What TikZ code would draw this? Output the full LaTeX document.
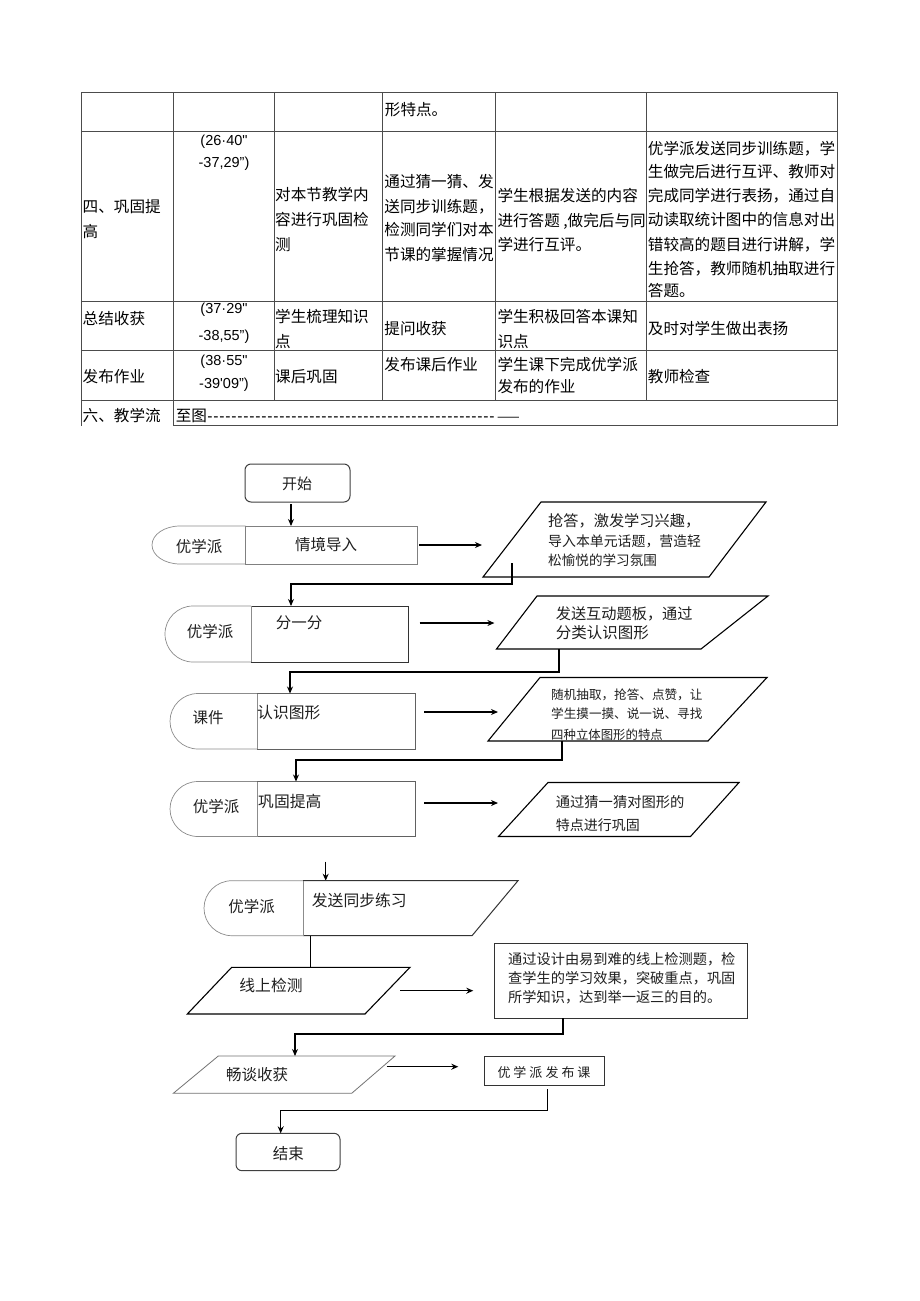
\documentclass[tikz,border=0pt]{standalone}
\usepackage{fontspec}
\setmainfont{Noto Sans CJK SC}
\newfontfamily\lat{Liberation Sans}
\usetikzlibrary{arrows.meta}
\newcommand\mydshape[5]{%
  \draw[#1] (#3,#4) -- ({#2+28},#4) .. controls ({#2+12.5},#4) and (#2,{(#4+#5)/2-0.5523*(#5-#4)/2}) .. (#2,{(#4+#5)/2})
    .. controls (#2,{(#4+#5)/2+0.5523*(#5-#4)/2}) and ({#2+12.5},#5) .. ({#2+28},#5) -- (#3,#5);}
\begin{document}
\begin{tikzpicture}[x=1pt,y=-1pt,
  tl/.style={inner sep=0pt, anchor=west, font=\fontsize{15.6}{18}\selectfont},
  tn/.style={inner sep=0pt, font=\fontsize{14.5}{18}\selectfont\lat},
  ft/.style={inner sep=0pt, text=black!88},
  conn/.style={draw=black, line width=1.1pt, -{Stealth[length=7pt,width=6pt]}},
  link/.style={draw=black, line width=1.1pt},
  tbl/.style={draw=black!70, line width=0.9pt},
  dgray/.style={draw=black!45, line width=0.7pt},
  rgray/.style={draw=black!50, line width=0.8pt},
  rmid/.style={draw=black!62, line width=0.9pt},
  rdark/.style={draw=black!80, line width=1pt},
  para/.style={draw=black, line width=1.1pt, line join=miter},
  term/.style={draw=black!75, line width=1pt, rounded corners=6pt}]
\useasboundingbox[fill=white] (0,0) rectangle (920,1301);

% ---------------- table ----------------
\foreach \yy in {92,131,301,350.5,400.5} \draw[tbl] (81,\yy) -- (837,\yy);
\draw[tbl] (173.6,425.5) -- (837,425.5);
\draw[tbl] (81,92) -- (81,425.5);
\draw[tbl] (173.6,92) -- (173.6,425.5);
\draw[tbl] (837,92) -- (837,425.5);
\foreach \xx in {274.2,382.7,495.8,646.7} \draw[tbl] (\xx,92) -- (\xx,400.5);

\node[tl] (r1c4) at (384.7,110) {形特点。};

\node[tl] (r2c1a) at (82.5,206.7) {四、巩固提};
\node[tl] (r2c1b) at (82.5,231.7) {高};
\node[tn] (r2c2a) at (224,141.7) {(26·40"};
\node[tn] (r2c2b) at (224,164) {-37,29”)};
\node[tl] (r2c3a) at (275,195) {对本节教学内};
\node[tl] (r2c3b) at (275,220) {容进行巩固检};
\node[tl] (r2c3c) at (275,244.3) {测};
\node[tl] (r2c4a) at (384.2,181.7) {通过猜一猜、发};
\node[tl] (r2c4b) at (384.2,206.7) {送同步训练题，};
\node[tl] (r2c4c) at (384.2,230) {检测同学们对本};
\node[tl] (r2c4d) at (384.2,255) {节课的掌握情况};
\node[tl] (r2c5a) at (497.3,195.7) {学生根据发送的内容};
\node[tl] (r2c5b) at (497.3,221) {进行答题 ,做完后与同};
\node[tl] (r2c5c) at (497.3,245) {学进行互评。};
\node[tl] (r2c6a) at (647.7,148.3) {优学派发送同步训练题，学};
\node[tl] (r2c6b) at (647.7,171.9) {生做完后进行互评、教师对};
\node[tl] (r2c6c) at (647.7,195.5) {完成同学进行表扬，通过自};
\node[tl] (r2c6d) at (647.7,219.9) {动读取统计图中的信息对出};
\node[tl] (r2c6e) at (647.7,244.3) {错较高的题目进行讲解，学};
\node[tl] (r2c6f) at (647.7,268.3) {生抢答，教师随机抽取进行};
\node[tl] (r2c6g) at (647.7,290.5) {答题。};

\node[tl] (r3c1) at (82.5,318.3) {总结收获};
\node[tn] (r3c2a) at (224,310) {(37·29"};
\node[tn] (r3c2b) at (224,336.7) {-38,55”)};
\node[tl] (r3c3a) at (275,316.7) {学生梳理知识};
\node[tl] (r3c3b) at (275,341.7) {点};
\node[tl] (r3c4) at (384.2,328.3) {提问收获};
\node[tl] (r3c5a) at (497.3,316.7) {学生积极回答本课知};
\node[tl] (r3c5b) at (497.3,341.7) {识点};
\node[tl] (r3c6) at (647.7,328.3) {及时对学生做出表扬};

\node[tl] (r4c1) at (82.5,376.7) {发布作业};
\node[tn] (r4c2a) at (224,361.7) {(38·55"};
\node[tn] (r4c2b) at (224,385) {-39'09”)};
\node[tl] (r4c3) at (275,376.7) {课后巩固};
\node[tl] (r4c4) at (384.2,365) {发布课后作业};
\node[tl] (r4c5a) at (497.3,365) {学生课下完成优学派};
\node[tl] (r4c5b) at (497.3,386.7) {发布的作业};
\node[tl] (r4c6) at (647.7,376.7) {教师检查};

\node[tl] (r5c1) at (82.5,415.7) {六、教学流};
\node[tl] (r5c2) at (175.6,415.7) {至图{\lat\hbox to 290pt{\leaders\hbox to 6pt{\hss-\hss}\hfill}}{\fontsize{13.5}{16}\selectfont ——}};

% ---------------- flowchart ----------------
% start
\draw[term] (245,464) rectangle (350,502);
\node[ft,font=\fontsize{15}{18}\selectfont] (start) at (297,484) {开始};
\coordinate (startb) at (291,504);

% group 1
\mydshape{dgray}{152}{245.5}{526}{564}
\draw[rgray] (245.5,526) rectangle (417,564);
\node[ft,font=\fontsize{15.5}{18}\selectfont] (g1l) at (199,547) {优学派};
\node[ft,font=\fontsize{15.5}{18}\selectfont] (g1r) at (326,545) {情境导入};
\coordinate (g1t) at (291,526);
\coordinate (g1o) at (419,545);
\draw[conn] (startb) -- (g1t);

% parallelogram 1
\draw[para] (541,502) -- (766,502) -- (709,577) -- (483,577) -- cycle;
\node[ft,anchor=west,font=\fontsize{15.2}{18}\selectfont] (p1a) at (548,521) {抢答，激发学习兴趣，};
\node[ft,anchor=west,font=\fontsize{13.9}{18}\selectfont] (p1b) at (548,541) {导入本单元话题，营造轻};
\node[ft,anchor=west,font=\fontsize{13.6}{18}\selectfont] (p1c) at (548,560) {松愉悦的学习氛围};
\coordinate (p1i) at (482,545);
\coordinate (p1s) at (512,563);
\draw[conn] (g1o) -- (p1i);

% group 2
\mydshape{dgray}{165}{251}{606}{662}
\draw[rdark] (251,606) -- (408,606) -- (408,662) -- (251,662);
\draw[dgray] (251,606) -- (251,662);
\node[ft,font=\fontsize{15.5}{18}\selectfont] (g2l) at (210,632) {优学派};
\node[ft,font=\fontsize{15.5}{18}\selectfont] (g2r) at (299,623) {分一分};
\coordinate (g2t) at (291,606);
\coordinate (g2o) at (419.7,623);
\coordinate (e1) at (0,584);
\draw[conn] (p1s) -- (p1s |- e1) -- (g2t |- e1) -- (g2t);

% parallelogram 2
\draw[para] (537,596) -- (768,596) -- (701,649) -- (496.5,649) -- cycle;
\node[ft,anchor=west,font=\fontsize{15.2}{18}\selectfont] (p2a) at (555.6,614) {发送互动题板，通过};
\node[ft,anchor=west,font=\fontsize{15.5}{18}\selectfont] (p2b) at (555.6,632.5) {分类认识图形};
\coordinate (p2i) at (494.4,623);
\coordinate (p2s) at (559,649);
\draw[conn] (g2o) -- (p2i);

% group 3
\mydshape{dgray}{170}{257}{693.5}{749}
\draw[rmid] (257,693.5) -- (415,693.5) -- (415,749) -- (257,749);
\draw[dgray] (257,693.5) -- (257,749);
\node[ft,font=\fontsize{15.5}{18}\selectfont] (g3l) at (208,718) {课件};
\node[ft,anchor=west,font=\fontsize{15.8}{18}\selectfont] (g3r) at (257,713) {认识图形};
\coordinate (g3t) at (290,693.5);
\coordinate (g3o) at (424,712);
\coordinate (e2) at (0,672);
\draw[conn] (p2s) -- (p2s |- e2) -- (g3t |- e2) -- (g3t);

% parallelogram 3
\draw[para] (540,677.5) -- (767,677.5) -- (708,741) -- (488,741) -- cycle;
\node[ft,anchor=west,font=\fontsize{12.6}{16}\selectfont] (p3a) at (551,695) {随机抽取，抢答、点赞，让};
\node[ft,anchor=west,font=\fontsize{12.6}{16}\selectfont] (p3b) at (551,713.5) {学生摸一摸、说一说、寻找};
\begin{scope}
\clip (545,720) rectangle (700,739.2);
\node[ft,anchor=west,font=\fontsize{12.4}{16}\selectfont] (p3c) at (551,735) {四种立体图形的特点};
\end{scope}
\coordinate (p3i) at (498,712);
\coordinate (p3s) at (562,741);
\draw[conn] (g3o) -- (p3i);

% group 4
\mydshape{dgray}{170}{257}{781.5}{836.5}
\draw[rmid] (257,781.5) -- (415.5,781.5) -- (415.5,836.5) -- (257,836.5);
\draw[dgray] (257,781.5) -- (257,836.5);
\node[ft,font=\fontsize{15.5}{18}\selectfont] (g4l) at (216,806.5) {优学派};
\node[ft,anchor=west,font=\fontsize{15.8}{18}\selectfont] (g4r) at (258,801.5) {巩固提高};
\coordinate (g4t) at (296,781.5);
\coordinate (g4o) at (424,803);
\coordinate (e3) at (0,760);
\draw[conn] (p3s) -- (p3s |- e3) -- (g4t |- e3) -- (g4t);

% parallelogram 4
\draw[para] (548,782.5) -- (739,782.5) -- (690.5,836.5) -- (498.5,836.5) -- cycle;
\node[ft,anchor=west,font=\fontsize{14.3}{18}\selectfont] (p4a) at (555.6,801.7) {通过猜一猜对图形的};
\node[ft,anchor=west,font=\fontsize{14}{18}\selectfont] (p4b) at (555.6,825) {特点进行巩固};
\coordinate (p4i) at (498,803);
\draw[conn] (g4o) -- (p4i);

% group 5
\coordinate (a5) at (325.7,861.7);
\coordinate (g5t) at (325.7,880.7);
\draw[conn] (a5) -- (g5t);
\mydshape{dgray}{204}{303}{880.7}{935.7}
\draw[rdark] (303,880.7) -- (518,880.7) -- (472,935.7) -- (303,935.7);
\draw[dgray] (303,880.7) -- (303,935.7);
\node[ft,font=\fontsize{15.5}{18}\selectfont] (g5l) at (251.7,906.7) {优学派};
\node[ft,anchor=west,font=\fontsize{15.8}{18}\selectfont] (g5r) at (311.7,900) {发送同步练习};
\coordinate (g5b) at (310.7,935.7);

% online test
\draw[para] (231.7,967.3) -- (410,967.3) -- (365,1014) -- (187.3,1014) -- cycle;
\node[ft,font=\fontsize{15.8}{18}\selectfont] (xs) at (271,985) {线上检测};
\coordinate (xst) at (310.7,967.3);
\coordinate (xso) at (400,990.7);
\draw[link] (g5b) -- (xst);

% box
\draw[rdark] (494,943.3) rectangle (747.7,1018.3);
\node[ft,anchor=west,font=\fontsize{14.2}{18}\selectfont] (bxa) at (508,959.3) {通过设计由易到难的线上检测题，检};
\node[ft,anchor=west,font=\fontsize{14.2}{18}\selectfont] (bxb) at (508,978) {查学生的学习效果，突破重点，巩固};
\node[ft,anchor=west,font=\fontsize{14.2}{18}\selectfont] (bxc) at (508,997) {所学知识，达到举一返三的目的。};
\coordinate (bxi) at (473.3,990.7);
\coordinate (bxs) at (563,1018.3);
\draw[conn] (xso) -- (bxi);

% harvest
\draw[draw=black!55, line width=0.8pt] (218.3,1056) -- (395,1056) -- (351.7,1093.3) -- (173.3,1093.3) -- cycle;
\node[ft,font=\fontsize{15.5}{18}\selectfont] (hv) at (257,1075) {畅谈收获};
\coordinate (hvt) at (295,1056);
\coordinate (hvo) at (386.7,1066.7);
\coordinate (e4) at (0,1034);
\draw[conn] (bxs) -- (bxs |- e4) -- (hvt |- e4) -- (hvt);

% publish
\draw[rdark] (484,1056) rectangle (604,1085.7);
\node[ft,font=\fontsize{13}{18}\selectfont] (pub) at (544,1073) {优\kern3pt 学\kern3pt 派\kern3pt 发\kern3pt 布\kern3pt 课};
\coordinate (pubi) at (458.3,1066.7);
\coordinate (pubs) at (547.7,1089);
\draw[conn] (hvo) -- (pubi);

% end
\draw[term] (236,1133.3) rectangle (340,1170.7);
\node[ft,font=\fontsize{15.5}{18}\selectfont] (end) at (288.3,1153.3) {结束};
\coordinate (endt) at (280.7,1133.3);
\coordinate (e5) at (0,1110.7);
\draw[conn] (pubs) -- (pubs |- e5) -- (endt |- e5) -- (endt);
\end{tikzpicture}
\end{document}
